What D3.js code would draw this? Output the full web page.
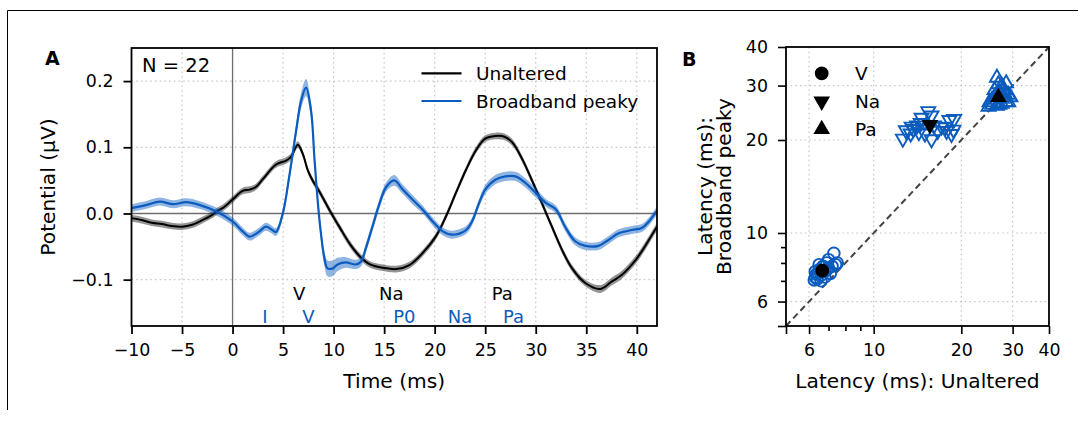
<!DOCTYPE html>
<html><head><meta charset="utf-8">
<script src="https://cdn.jsdelivr.net/npm/d3@7"></script>
<style>
body{margin:0;background:#fff;}
text{font-family:"DejaVu Sans",sans-serif;fill:#000;}
</style></head>
<body><svg id="chart" width="1078" height="422"></svg>
<script>
// ---------- Panel A data ----------
const timeUnaltered = [-10,-9,-8,-7,-6,-5,-4,-3,-2,-1.5,-1,0,1.0,1.7,2.3,3.0,4.3,5.3,5.8,6.45,6.95,7.45,7.95,8.6,9.6,10.6,11.6,12.6,13.6,14.9,16.2,17.5,18.8,20.1,21.1,22.1,23.1,24.1,25.0,26.0,26.9,27.7,28.7,29.6,30.6,31.6,32.6,33.6,34.9,36.4,37.5,38.5,39.9,40.8,41.8,42];
const unaltered = [-0.007,-0.010,-0.014,-0.016,-0.019,-0.020,-0.017,-0.010,-0.002,0.004,0.008,0.021,0.034,0.036,0.040,0.052,0.074,0.080,0.086,0.104,0.090,0.065,0.049,0.033,0.005,-0.021,-0.046,-0.065,-0.077,-0.082,-0.084,-0.078,-0.060,-0.035,-0.005,0.031,0.066,0.096,0.113,0.117,0.116,0.107,0.081,0.051,0.016,-0.020,-0.055,-0.083,-0.105,-0.114,-0.103,-0.093,-0.070,-0.050,-0.025,-0.020];
const unalteredSem = [0.005,0.005,0.005,0.005,0.005,0.005,0.005,0.005,0.005,0.005,0.005,0.005,0.005,0.005,0.005,0.005,0.005,0.005,0.005,0.005,0.005,0.005,0.005,0.005,0.005,0.005,0.005,0.005,0.005,0.005,0.005,0.005,0.005,0.005,0.005,0.005,0.005,0.005,0.005,0.005,0.005,0.005,0.005,0.005,0.005,0.005,0.005,0.005,0.005,0.006,0.006,0.006,0.006,0.006,0.006,0.006];

const timeBroadband = [-10,-8.5,-7.2,-5.9,-4.6,-3.3,-1.6,0,1.0,1.7,2.66,3.3,3.85,4.3,4.97,5.63,6.28,6.78,7.27,7.77,8.1,8.43,8.76,9.09,9.4,9.9,10.4,11.2,12.2,12.7,13.2,13.9,14.5,15.2,16.0,16.8,17.8,18.8,19.8,20.8,21.7,23.1,23.7,24.4,25.0,26.0,27.0,28.0,29.0,30.0,31.0,32.0,32.9,33.9,34.9,36.2,37.2,38.2,39.5,40.5,41.2,41.8,42];
const broadband = [0.008,0.013,0.018,0.014,0.017,0.013,0.003,-0.012,-0.027,-0.035,-0.027,-0.020,-0.024,-0.028,0.000,0.058,0.124,0.170,0.190,0.155,0.084,0.018,-0.032,-0.068,-0.083,-0.083,-0.077,-0.074,-0.077,-0.073,-0.052,-0.017,0.013,0.040,0.050,0.037,0.021,0.006,-0.012,-0.027,-0.032,-0.025,-0.012,0.016,0.036,0.051,0.056,0.056,0.046,0.031,0.016,0.006,-0.020,-0.042,-0.049,-0.049,-0.040,-0.030,-0.025,-0.022,-0.012,0.000,0.004];
const broadbandSem = [0.006,0.006,0.006,0.006,0.006,0.006,0.006,0.006,0.006,0.006,0.006,0.006,0.006,0.006,0.007,0.008,0.010,0.012,0.013,0.012,0.010,0.009,0.010,0.011,0.012,0.012,0.010,0.008,0.007,0.007,0.007,0.007,0.007,0.007,0.008,0.007,0.007,0.006,0.006,0.006,0.006,0.006,0.006,0.006,0.007,0.007,0.007,0.007,0.007,0.007,0.006,0.006,0.006,0.006,0.006,0.006,0.006,0.006,0.006,0.006,0.006,0.006,0.006];

const seriesNames = ["Unaltered","Broadband peaky"];
const peakLabelsUnaltered = ["V","Na","Pa"];
const peakLatUnaltered = [6.6,15.7,26.7];
const peakLabelsBroadband = ["I","V","P0","Na","Pa"];
const peakLatBroadband = [3.2,7.5,17.0,22.5,27.8];
const xTicksA = [-10,-5,0,5,10,15,20,25,30,35,40];
const yTicksA = [-0.1,0.0,0.1,0.2];

// ---------- Panel B data ----------
const waveNames = ["V","Na","Pa"];
const vUnaltered = [6.25,6.3,6.35,6.4,6.5,6.6,6.7,6.8,6.9,7.0,7.0,7.1,7.3,7.4,7.5,6.5,6.6,6.3,6.8,7.2,6.45,6.9];
const vBroadband = [7.05,7.2,7.35,7.1,7.6,7.3,7.8,7.5,8.0,7.7,8.2,7.4,8.6,7.9,8.0,7.9,7.0,7.5,7.2,7.8,7.4,7.6];
const naUnaltered = [12.6,12.9,13.4,13.7,14.1,14.5,15.4,15.8,16.1,15.8,16.6,17.1,17.6,18.2,18.9,18.8,18.5,17.8,14.6,13.5,14.3,15.0];
const naBroadband = [20.2,21.5,21.0,21.7,22.3,22.7,24.8,24.0,22.3,20.1,21.4,22.1,22.0,23.2,23.4,21.6,20.9,21.4,23.6,22.1,21.2,21.0];
const paUnaltered = [26.5,27.5,28.0,29.0,29.5,25.0,25.5,26.5,27.5,28.5,26.0,27.0,26.0,28.0,24.8,27.0,29.0,28.5,26.8,25.5,27.5,28.2];
const paBroadband = [31.8,30.0,29.0,28.0,27.5,26.5,26.0,25.8,26.2,26.5,27.5,28.5,29.0,27.5,25.6,26.0,26.5,30.5,30.3,27.0,27.2,28.2];
const meanUnaltered = [6.66,15.6,26.8];
const meanBroadband = [7.55,22.4,27.5];
const logTicksLabeled = [6,10,20,30,40];
const logTicksMinor = [5,7,8,9];

// ---------- drawing ----------
const BLUE = "#0b5cbe";
const svg = d3.select("#chart");
svg.append("rect").attr("width",1078).attr("height",422).attr("fill","#fff");
// frame lines
svg.append("line").attr("x1",7.5).attr("x2",1078).attr("y1",10.5).attr("y2",10.5).attr("stroke","#000").attr("stroke-width",1);
svg.append("line").attr("x1",7.5).attr("x2",7.5).attr("y1",10.5).attr("y2",410).attr("stroke","#000").attr("stroke-width",1);

const TICK_FS = 17.4, LAB_FS = 20.2, LEG_FS = 18.5;

// ----- Panel A -----
const A = {l:131.5, r:657, t:48, b:326};
const xA = d3.scaleLinear().domain([-10,42]).range([A.l,A.r]);
const yA = d3.scaleLinear().domain([-0.17,0.25]).range([A.b,A.t]);
const gA = svg.append("g");
// grid
gA.selectAll(".gx").data(xTicksA).join("line")
  .attr("x1",d=>xA(d)).attr("x2",d=>xA(d)).attr("y1",A.t).attr("y2",A.b)
  .attr("stroke","#c4c4c4").attr("stroke-width",1.2).attr("stroke-dasharray","1.5,3.2");
gA.selectAll(".gy").data(yTicksA).join("line")
  .attr("x1",A.l).attr("x2",A.r).attr("y1",d=>yA(d)).attr("y2",d=>yA(d))
  .attr("stroke","#c4c4c4").attr("stroke-width",1.2).attr("stroke-dasharray","1.5,3.2");
// zero lines
gA.append("line").attr("x1",xA(0)).attr("x2",xA(0)).attr("y1",A.t).attr("y2",A.b).attr("stroke","#6e6e6e").attr("stroke-width",1.3);
gA.append("line").attr("x1",A.l).attr("x2",A.r).attr("y1",yA(0)).attr("y2",yA(0)).attr("stroke","#6e6e6e").attr("stroke-width",1.3);

svg.append("defs").append("clipPath").attr("id","clipA").append("rect")
  .attr("x",A.l).attr("y",A.t).attr("width",A.r-A.l).attr("height",A.b-A.t);
const plotA = gA.append("g").attr("clip-path","url(#clipA)");

function drawSeries(times, vals, sems, color, bandColor, bandOpacity, lw){
  const pts = times.map((t,i)=>({t, v:vals[i], s:sems[i]}));
  const area = d3.area().x(d=>xA(d.t)).y0(d=>yA(d.v-d.s)).y1(d=>yA(d.v+d.s)).curve(d3.curveCatmullRom);
  const line = d3.line().x(d=>xA(d.t)).y(d=>yA(d.v)).curve(d3.curveCatmullRom);
  plotA.append("path").datum(pts).attr("d",area).attr("fill",bandColor).attr("fill-opacity",bandOpacity);
  plotA.append("path").datum(pts).attr("d",line).attr("fill","none").attr("stroke",color).attr("stroke-width",lw);
}
drawSeries(timeUnaltered, unaltered, unalteredSem, "#000", "#000", 0.42, 2);
drawSeries(timeBroadband, broadband, broadbandSem, BLUE, BLUE, 0.45, 2.2);

// axes A
const axXA = d3.axisBottom(xA).tickValues(xTicksA).tickSize(8).tickPadding(10).tickFormat(d3.format("d"));
const axYA = d3.axisLeft(yA).tickValues(yTicksA).tickSize(8).tickPadding(10).tickFormat(d3.format(".1f"));
const gxA = gA.append("g").attr("transform",`translate(0,${A.b})`).call(axXA);
const gyA = gA.append("g").attr("transform",`translate(${A.l},0)`).call(axYA);
[gxA,gyA].forEach(g=>{
  g.select(".domain").remove();
  g.selectAll(".tick line").attr("stroke","#000").attr("stroke-width",1.8);
  g.selectAll(".tick text").style("font-size",TICK_FS+"px").style("font-family","DejaVu Sans");
});
gA.append("rect").attr("x",A.l).attr("y",A.t).attr("width",A.r-A.l).attr("height",A.b-A.t)
  .attr("fill","none").attr("stroke","#000").attr("stroke-width",1.8);

// peak labels
gA.selectAll(".pu").data(peakLabelsUnaltered).join("text")
  .attr("x",(d,i)=>xA(peakLatUnaltered[i])).attr("y",299.5).attr("text-anchor","middle")
  .style("font-size","18px").text(d=>d);
gA.selectAll(".pb").data(peakLabelsBroadband).join("text")
  .attr("x",(d,i)=>xA(peakLatBroadband[i])).attr("y",322.5).attr("text-anchor","middle")
  .style("font-size","18px").style("fill",BLUE).text(d=>d);

// N text
gA.append("text").attr("x",142).attr("y",71.7).style("font-size","19.5px").text("N = 22");
// legend A
const legA = gA.append("g");
seriesNames.forEach((n,i)=>{
  const y = 73.3 + i*27.7;
  legA.append("line").attr("x1",421.5).attr("x2",461.5).attr("y1",y).attr("y2",y)
    .attr("stroke", i===0?"#000":BLUE).attr("stroke-width",2.2);
  legA.append("text").attr("x",476).attr("y",y).attr("dy","0.36em").style("font-size",LEG_FS+"px").text(n);
});
// labels A
gA.append("text").attr("x",(A.l+A.r)/2).attr("y",388).attr("text-anchor","middle").style("font-size",LAB_FS+"px").text("Time (ms)");
gA.append("text").attr("transform",`translate(55,${(A.t+A.b)/2}) rotate(-90)`).attr("text-anchor","middle").style("font-size",LAB_FS+"px").text("Potential (μV)");
svg.append("text").attr("x",45).attr("y",65).style("font-size","19px").style("font-weight","bold").text("A");

// ----- Panel B -----
const B = {l:786, r:1049, t:47, b:326};
const xB = d3.scaleLog().domain([5,40]).range([B.l,B.r]);
const yB = d3.scaleLog().domain([5,40]).range([B.b,B.t]);
const gB = svg.append("g");
const gridB = logTicksLabeled.filter(d=>d<40);
gB.selectAll(".gx").data(gridB).join("line")
  .attr("x1",d=>xB(d)).attr("x2",d=>xB(d)).attr("y1",B.t).attr("y2",B.b)
  .attr("stroke","#c4c4c4").attr("stroke-width",1.2).attr("stroke-dasharray","1.5,3.2");
gB.selectAll(".gy").data(gridB).join("line")
  .attr("x1",B.l).attr("x2",B.r).attr("y1",d=>yB(d)).attr("y2",d=>yB(d))
  .attr("stroke","#c4c4c4").attr("stroke-width",1.2).attr("stroke-dasharray","1.5,3.2");
// diagonal
gB.append("line").attr("x1",xB(5)).attr("y1",yB(5)).attr("x2",xB(40)).attr("y2",yB(40))
  .attr("stroke","#444").attr("stroke-width",2).attr("stroke-dasharray","6.5,4");

const symCircle = d3.symbol().type(d3.symbolCircle);
const symTri = d3.symbol().type(d3.symbolTriangle);
function markerPath(kind, size){
  if(kind===0) return symCircle.size(size)();
  return symTri.size(size*0.8)();
}
function markerRot(kind){ return kind===1 ? 180 : 0; }
const groups = [[vUnaltered,vBroadband],[naUnaltered,naBroadband],[paUnaltered,paBroadband]];
groups.forEach((g,k)=>{
  const pts = g[0].map((x,i)=>({x, y:g[1][i]}));
  gB.selectAll(".p"+k).data(pts).join("path")
    .attr("d", markerPath(k, 105))
    .attr("transform", d=>`translate(${xB(d.x)},${yB(d.y)}) rotate(${markerRot(k)})`)
    .attr("fill","none").attr("stroke",BLUE).attr("stroke-width",1.9);
});
waveNames.forEach((n,k)=>{
  gB.append("path").attr("d", markerPath(k, 150))
    .attr("transform",`translate(${xB(meanUnaltered[k])},${yB(meanBroadband[k])}) rotate(${markerRot(k)})`)
    .attr("fill","#000");
});

// axes B
const axXB = d3.axisBottom(xB).tickValues(logTicksLabeled.concat(logTicksMinor)).tickSize(8).tickPadding(10)
  .tickFormat(d=>logTicksLabeled.includes(d)?d3.format("d")(d):"");
const axYB = d3.axisLeft(yB).tickValues(logTicksLabeled.concat(logTicksMinor)).tickSize(8).tickPadding(10)
  .tickFormat(d=>logTicksLabeled.includes(d)?d3.format("d")(d):"");
const gxB = gB.append("g").attr("transform",`translate(0,${B.b})`).call(axXB);
const gyB = gB.append("g").attr("transform",`translate(${B.l},0)`).call(axYB);
[gxB,gyB].forEach(g=>{
  g.select(".domain").remove();
  g.selectAll(".tick line").attr("stroke","#000").attr("stroke-width",1.6);
  g.selectAll(".tick text").style("font-size",TICK_FS+"px").style("font-family","DejaVu Sans");
});
gxB.selectAll(".tick").filter(d=>logTicksMinor.includes(d)&&d!==5).select("line").attr("y2",5);
gyB.selectAll(".tick").filter(d=>logTicksMinor.includes(d)&&d!==5).select("line").attr("x2",-5);
gB.append("rect").attr("x",B.l).attr("y",B.t).attr("width",B.r-B.l).attr("height",B.b-B.t)
  .attr("fill","none").attr("stroke","#000").attr("stroke-width",1.8);

// legend B
waveNames.forEach((n,k)=>{
  const y = 73.3 + k*28;
  gB.append("path").attr("d",markerPath(k,150)).attr("transform",`translate(821.7,${y}) rotate(${markerRot(k)})`).attr("fill","#000");
  gB.append("text").attr("x",855).attr("y",y).attr("dy","0.36em").style("font-size",LEG_FS+"px").text(n);
});
// labels B
gB.append("text").attr("x",(B.l+B.r)/2).attr("y",388).attr("text-anchor","middle").style("font-size",LAB_FS+"px").text("Latency (ms): Unaltered");
const yl = gB.append("text").attr("transform",`translate(0,${(B.t+B.b)/2}) rotate(-90)`).attr("text-anchor","middle").style("font-size",LAB_FS+"px");
yl.append("tspan").attr("x",0).attr("y",712).text("Latency (ms):");
yl.append("tspan").attr("x",0).attr("y",731).text("Broadband peaky");
svg.append("text").attr("x",682).attr("y",66).style("font-size","19px").style("font-weight","bold").text("B");
</script></body></html>
